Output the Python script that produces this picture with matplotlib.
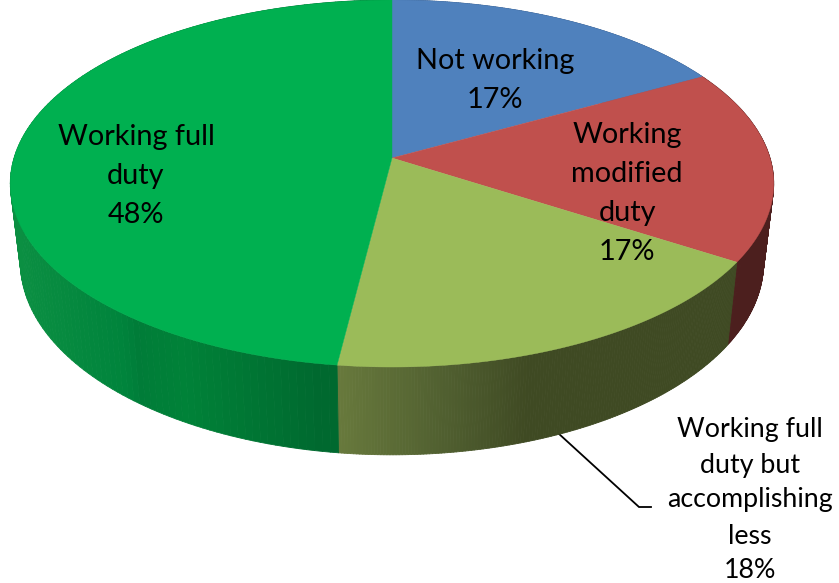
import numpy as np
import matplotlib
matplotlib.use("Agg")
import matplotlib.pyplot as plt
from matplotlib.collections import PolyCollection
from matplotlib.colors import LinearSegmentedColormap

plt.rcParams["font.family"] = ["Lato", "DejaVu Sans"]

categories = ["Not working", "Working modified duty",
              "Working full duty but accomplishing less", "Working full duty"]
values = [17, 17, 18, 48]
top_colors = ["#4F81BD", "#C0504D", "#9BBB59", "#00B050"]

# side wall shading, left to right across the canvas
side_shades = [
    [(0.0, "#3A5E8C"), (1.0, "#3A5E8C")],
    [(0.0, "#4C1F1E"), (1.0, "#4C1F1E")],
    [(0.0, "#6B7D3E"), (0.3, "#505F30"), (0.5, "#3F4A23"), (1.0, "#3F4A23")],
    [(0.0, "#0B8F42"), (0.35, "#00843C"), (0.4, "#007C38"), (0.55, "#008238"), (1.0, "#00692F")],
]
side_ranges = [(392, 707), (730, 775), (323, 737), (15, 323)]

# perspective of the disc: PERSP is the tilt term, HALF_W the half width
CX = 392
PERSP = 0.139
HALF_W = [378, 368]
CENTRE_Y = [158, 235.6]
SPAN_Y = [158, 156]


def project(pct, level):
    # pct runs clockwise from 12 o'clock, level 0 = top face, 1 = bottom face
    th = np.asarray(pct) / 100 * 2 * np.pi
    u, v = np.sin(th), np.cos(th)
    w = 1 + PERSP * v
    x = CX + HALF_W[level] * u / w
    y = (CENTRE_Y[level] - SPAN_Y[level] * v) / w
    return x, y


fig = plt.figure(figsize=(8.39, 5.83), dpi=100)
ax = fig.add_axes([0, 0, 1, 1])
ax.set_xlim(0, 839)
ax.set_ylim(583, 0)
ax.axis("off")

edges = np.concatenate([[0], np.cumsum(values)])

# outer wall, thin quads coloured by their x position
for i in range(len(values)):
    cmap = LinearSegmentedColormap.from_list("side", side_shades[i])
    pct = np.linspace(edges[i], edges[i + 1], 160)
    xt, yt = project(pct, 0)
    xb, yb = project(pct, 1)
    quads = [[(xt[k], yt[k]), (xt[k + 1], yt[k + 1]), (xb[k + 1], yb[k + 1]), (xb[k], yb[k])]
             for k in range(len(pct) - 1)]
    lo, hi = side_ranges[i]
    shade = np.clip((xt[:-1] - lo) / (hi - lo), 0, 1)
    cols = cmap(shade)
    ax.add_collection(PolyCollection(quads, facecolors=cols, edgecolors=cols, linewidths=0.6))

# top face slices
cy0 = CENTRE_Y[0]
for i in range(len(values)):
    pct = np.linspace(edges[i], edges[i + 1], 160)
    xt, yt = project(pct, 0)
    ax.fill(np.r_[CX, xt], np.r_[cy0, yt], color=top_colors[i], lw=0.3)

# leader for the outside label
ax.plot([558, 639, 651], [433, 507, 507], color="black", lw=1.3, solid_joinstyle="miter", zorder=0.5)

for txt, x, y, fs in [
    ("Not working", 495, 61, 20.8), ("17%", 495, 100, 20.8),
    ("Working", 627, 135, 20.8), ("modified", 627, 174, 20.8), ("duty", 627, 213, 20.8), ("17%", 627, 252, 20.8),
    ("Working full", 136, 137, 20.8), ("duty", 136, 176, 20.8), ("48%", 136, 215, 20.8),
    ("Working full", 750, 429, 19.3), ("duty but", 750, 465, 19.3), ("accomplishing", 750, 500, 19.3),
    ("less", 750, 536, 19.3), ("18%", 750, 571, 19.3),
]:
    ax.text(x, y, txt, ha="center", va="center", fontsize=fs, color="black")

fig.savefig("out.png", dpi=100)
